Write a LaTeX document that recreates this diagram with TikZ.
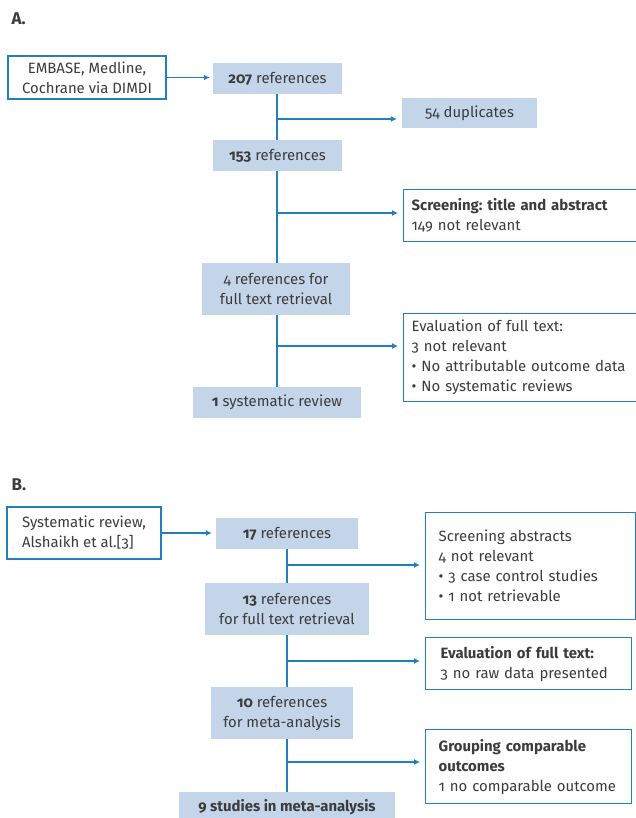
\documentclass[tikz,border=0pt]{standalone}
\usepackage{fontspec}
\setmainfont{Fira Sans}[Numbers=OldStyle]
\frenchspacing
\usetikzlibrary{arrows.meta}
\definecolor{linkblue}{HTML}{2280BF}
\definecolor{boxfill}{HTML}{C4D5E9}
\definecolor{txtgray}{HTML}{3C3C3C}
\tikzset{
  stage/.style={fill=boxfill,inner sep=0pt,align=center,text=txtgray},
  source/.style={draw=linkblue,line width=1.3pt,fill=white,inner sep=0pt,text=txtgray},
  outbox/.style={draw=linkblue,line width=1.3pt,fill=white,anchor=north west,align=left,inner ysep=0pt,text=txtgray},
  link/.style={draw=linkblue,line width=1.3pt},
  arr/.style={link,-{Latex[length=6pt,width=6pt]},shorten >=3pt},
  panel/.style={anchor=west,text=txtgray,font=\fontsize{17}{20}\selectfont\bfseries}
}
\begin{document}
\begin{tikzpicture}[x=1pt,y=-1pt,font=\fontsize{14.9}{20}\selectfont]
  \useasboundingbox (0,0) rectangle (635,818);

  \node[panel] (labA) at (8,19) {A.};
  \node[source,align=center,minimum width=158pt,minimum height=43pt] (srcA) at (87,77.5) {EMBASE, Medline,\\Cochrane via DIMDI};
  \node[stage,minimum width=129pt,minimum height=31pt] (r207) at (277.5,78.5) {\textbf{207} references};
  \node[stage,minimum width=135pt,minimum height=30pt] (dup) at (469.5,113) {54 duplicates};
  \node[stage,minimum width=129pt,minimum height=31pt] (r153) at (277.5,155.5) {\textbf{153} references};
  \node[outbox,inner xsep=8pt,text width=221pt,minimum height=52pt] (scrA) at (403,189) {\textbf{Screening: title and abstract}\\149 not relevant};
  \node[stage,minimum width=148pt,minimum height=52pt] (r4) at (276,289) {4 references for\\full text retrieval};
  \node[outbox,inner xsep=8pt,text width=221pt,minimum height=88pt] (evalA) at (403,313) {Evaluation of full text:\\3 not relevant\\• No attributable outcome data\\• No systematic reviews};
  \node[stage,minimum width=168pt,minimum height=31pt] (r1) at (277,402.5) {\textbf{1} systematic review};

  \coordinate (jA1) at (277,119);
  \coordinate (jA2) at (277,213);
  \coordinate (jA3) at (277,346);
  \draw[arr] (srcA.east) -- (srcA.east -| r207.west);
  \draw[link] (r207.south -| jA1) -- (r153.north -| jA1);
  \draw[link] (r153.south -| jA1) -- (r4.north -| jA1);
  \draw[link] (r4.south -| jA1) -- (r1.north -| jA1);
  \draw[arr,shorten >=5pt] (jA1) -- (jA1 -| dup.west);
  \draw[arr,shorten >=5pt] (jA2) -- (jA2 -| scrA.west);
  \draw[arr,shorten >=5pt] (jA3) -- (jA3 -| evalA.west);

  \node[panel] (labB) at (8,485) {B.};
  \node[source,align=left,minimum width=154pt,minimum height=52pt] (srcB) at (84,533) {Systematic review,\\Alshaikh et al.[3]};
  \node[stage,minimum width=142pt,minimum height=31pt] (r17) at (287,533.5) {\textbf{17} references};
  \node[outbox,inner xsep=13pt,text width=184pt,minimum height=107pt] (scrB) at (425,512) {Screening abstracts\\4 not relevant\\• 3 case control studies\\• 1 not retrievable};
  \node[stage,minimum width=164pt,minimum height=52pt] (r13) at (287,609) {\textbf{13} references\\for full text retrieval};
  \node[outbox,inner xsep=15pt,text width=176pt,minimum height=52pt] (evalB) at (425,637) {\textbf{Evaluation of full text:}\\3 no raw data presented};
  \node[stage,minimum width=142pt,minimum height=52pt] (r10) at (282,713) {\textbf{10} references\\for meta-analysis};
  \node[outbox,inner xsep=13pt,text width=180pt,minimum height=74pt] (grpB) at (425,729) {\textbf{Grouping comparable}\\\textbf{outcomes}\\1 no comparable outcome};
  \node[stage,minimum width=216pt,minimum height=30pt] (r9) at (287,807) {\textbf{9 studies in meta-analysis}};

  \coordinate (jB1) at (287,565);
  \coordinate (jB2) at (287,661);
  \coordinate (jB3) at (287,762);
  \draw[arr,shorten >=4pt] (srcB.east) -- (srcB.east -| r17.west);
  \draw[link] (r17.south -| jB1) -- (r13.north -| jB1);
  \draw[link] (r13.south -| jB1) -- (r10.north -| jB1);
  \draw[link] (r10.south -| jB1) -- (r9.north -| jB1);
  \draw[arr,shorten >=5pt] (jB1) -- (jB1 -| scrB.west);
  \draw[arr,shorten >=5pt] (jB2) -- (jB2 -| evalB.west);
  \draw[arr,shorten >=5pt] (jB3) -- (jB3 -| grpB.west);
\end{tikzpicture}
\end{document}
